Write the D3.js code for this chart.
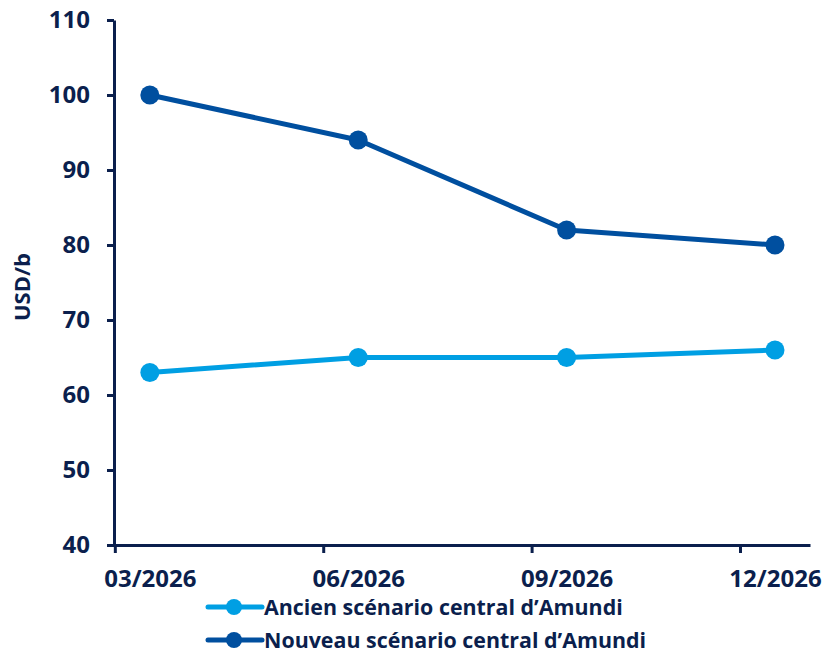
<!DOCTYPE html>
<html><head><meta charset="utf-8">
<script src="https://cdn.jsdelivr.net/npm/d3@7"></script>
<style>body{margin:0;background:#fff}svg{display:block;font-family:"Open Sans","Noto Sans",sans-serif;font-weight:700}</style>
</head><body><svg id="c" width="825" height="650"></svg>
<script>
const categories = ["03/2026","06/2026","09/2026","12/2026"];
const ancien = [63,65,65,66];
const nouveau = [100,94,82,80];
const yTicks = [40,50,60,70,80,90,100,110];
const seriesNames = ["Ancien scénario central d\u2019Amundi","Nouveau scénario central d\u2019Amundi"];
const colors = ["#009fe3","#004f9f"];
const axisColor = "#0b1f4d";

const svg = d3.select("#c");
const x = d3.scaleLinear().domain([-0.172, 3.168]).range([114, 810]);
const y = d3.scaleLinear().domain([40,110]).range([545,20]);

const ya = svg.append("g").attr("transform","translate(114,0)")
  .call(d3.axisLeft(y).tickValues(yTicks).tickSize(7).tickPadding(17).tickSizeOuter(0));
const xa = svg.append("g").attr("transform","translate(0,545)")
  .call(d3.axisBottom(x).tickValues(categories.map((d,i)=>i-0.168)).tickFormat("").tickSize(8).tickSizeOuter(0));
const xl = svg.append("g").attr("transform","translate(0,545)")
  .call(d3.axisBottom(x).tickValues(categories.map((d,i)=>i)).tickFormat(i=>categories[i]).tickSize(0).tickPadding(25));
xl.select(".domain").remove();
[ya,xa,xl].forEach(g=>{
  g.selectAll(".domain, line").attr("stroke",axisColor).attr("stroke-width",3);
  g.selectAll("text").attr("fill",axisColor).style("font-size","24px").style("font-family",'"Open Sans",sans-serif').style("font-weight",700);
});
xl.selectAll("text").attr("dy","0.71em");

svg.append("text").attr("transform","translate(30,287) rotate(-90)")
  .attr("text-anchor","middle").attr("fill",axisColor).style("font-size","22px").style("font-weight",700).text("USD/b");

const line = d3.line().x((d,i)=>x(i)).y(d=>y(d));
[ancien, nouveau].forEach((s,k)=>{
  svg.append("path").datum(s).attr("d",line).attr("fill","none")
    .attr("stroke",colors[k]).attr("stroke-width",5).attr("stroke-linejoin","round");
  svg.selectAll(null).data(s).enter().append("circle")
    .attr("cx",(d,i)=>x(i)).attr("cy",d=>y(d)).attr("r",9.5).attr("fill",colors[k]);
});

const legY = [607, 640];
seriesNames.forEach((n,k)=>{
  const g = svg.append("g").attr("transform",`translate(0,${legY[k]})`);
  g.append("line").attr("x1",208).attr("x2",262).attr("y1",0).attr("y2",0)
    .attr("stroke",colors[k]).attr("stroke-width",5).attr("stroke-linecap","round");
  g.append("circle").attr("cx",234).attr("cy",0).attr("r",8).attr("fill",colors[k]);
  g.append("text").attr("x",264).attr("y",0).attr("dy","0.35em").attr("fill",axisColor)
    .style("font-size","21.4px").style("font-weight",700).text(n);
});
</script></body></html>
